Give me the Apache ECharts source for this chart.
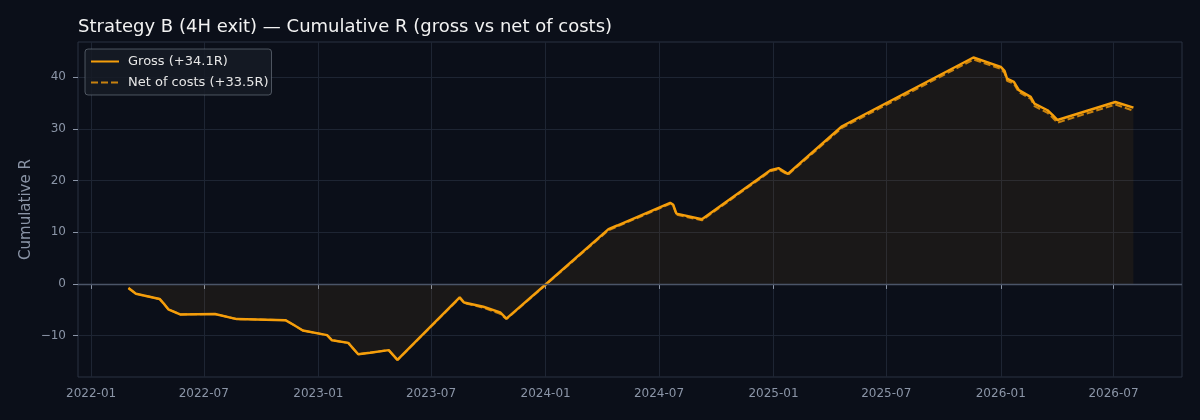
<!DOCTYPE html>
<html>
<head>
<meta charset="utf-8">
<script src="https://cdn.jsdelivr.net/npm/echarts@6/dist/echarts.min.js"></script>
<style>
html,body{margin:0;padding:0;background:#0b0f19;}
#c{width:1200px;height:420px;}
</style>
</head>
<body>
<div id="c"></div>
<script>
const dates = ['2022-03-02','2022-03-14','2022-04-21','2022-04-27','2022-05-05','2022-05-24','2022-07-19','2022-08-23','2022-11-09','2022-11-22','2022-12-07','2023-01-15','2023-01-23','2023-02-18','2023-03-06','2023-03-25','2023-04-24','2023-05-08','2023-08-16','2023-08-23','2023-09-23','2023-10-20','2023-10-30','2023-12-31','2024-04-11','2024-04-25','2024-07-19','2024-07-24','2024-07-29','2024-09-08','2024-12-27','2025-01-09','2025-01-24','2025-04-21','2025-11-18','2026-01-01','2026-01-07','2026-01-11','2026-01-22','2026-01-30','2026-02-18','2026-02-24','2026-03-17','2026-03-25','2026-04-02','2026-07-04','2026-08-02'];
const gross = [-0.8,-1.9,-2.9,-3.7,-4.9,-5.9,-5.8,-6.8,-7.0,-7.9,-9.0,-9.9,-10.9,-11.4,-13.6,-13.3,-12.8,-14.7,-2.6,-3.6,-4.4,-5.5,-6.7,-0.2,10.6,11.3,15.7,15.3,13.6,12.5,22.0,22.4,21.3,30.5,43.8,42.0,41.2,39.7,39.1,37.5,36.2,34.9,33.6,32.7,31.7,35.2,34.1];
const net = [-0.8,-1.9,-2.9,-3.7,-4.9,-5.9,-5.8,-6.8,-7.0,-7.9,-9.0,-9.9,-10.9,-11.4,-13.6,-13.3,-12.8,-14.7,-2.7,-3.7,-4.6,-5.8,-6.8,-0.3,10.4,11.1,15.5,15.1,13.4,12.3,21.8,22.2,21.1,30.2,43.4,41.6,40.8,39.3,38.7,37.1,35.8,34.4,33.1,32.2,31.2,34.7,33.5];
const xTickLabels = ['2022-01','2022-07','2023-01','2023-07','2024-01','2024-07','2025-01','2025-07','2026-01','2026-07'];
const yTicks = [-10,0,10,20,30,40];

const ts = s => { const p = s.split('-').map(Number); return Date.UTC(p[0], p[1]-1, p[2] || 1); };
const xTicks = xTickLabels.map(ts);
const grossData = dates.map((d,i)=>[ts(d), gross[i]]);
const netData = dates.map((d,i)=>[ts(d), net[i]]);

const labelColor = '#8b95a7';
const gridColor = '#1e2533';
const chart = echarts.init(document.getElementById('c'), null, {renderer:'canvas'});
chart.setOption({
  backgroundColor: '#0b0f19',
  animation: false,
  title: {
    text: 'Strategy B (4H exit) \u2014 Cumulative R (gross vs net of costs)',
    left: 73, top: 13,
    textStyle: {color:'#f2f2f2', fontSize:18, fontWeight:'normal', fontFamily:'DejaVu Sans'}
  },
  legend: {
    orient: 'vertical', left: 85, top: 49,
    backgroundColor: 'rgba(22,27,38,0.85)',
    borderColor: 'rgba(130,138,150,0.55)', borderWidth: 1, borderRadius: 3,
    padding: [6, 3, 6, 5],
    itemWidth: 28, itemHeight: 10, itemGap: 8,
    itemStyle: {opacity: 0},
    textStyle: {color:'#e6e6e6', fontSize:13, fontFamily:'DejaVu Sans', padding:[0,0,0,4]},
    data: ['Gross (+34.1R)', 'Net of costs (+33.5R)']
  },
  grid: {
    left: 78, right: 18, top: 42, bottom: 43,
    show: true, borderColor: '#2a3242', borderWidth: 1
  },
  xAxis: {
    type: 'value',
    min: ts('2021-12-11'), max: ts('2026-10-19'),
    axisLine: {show:false},
    axisTick: {show:true, length:5, lineStyle:{color:labelColor}, customValues: xTicks},
    axisLabel: {
      color: labelColor, fontSize: 12, fontFamily:'DejaVu Sans', margin: 11,
      customValues: xTicks,
      formatter: v => { const d = new Date(v); return d.getUTCFullYear() + '-' + String(d.getUTCMonth()+1).padStart(2,'0'); }
    },
    splitLine: {show:true, lineStyle:{color:gridColor, width:1}}
  },
  yAxis: {
    type: 'value', min: -18, max: 46.8,
    name: 'Cumulative R', nameLocation: 'middle', nameGap: 44, nameRotate: 90,
    nameMoveOverlap: false,
    nameTextStyle: {color: labelColor, fontSize: 15, fontFamily:'DejaVu Sans'},
    axisLine: {show:false},
    axisTick: {show:true, length:5, lineStyle:{color:labelColor}, customValues: yTicks},
    axisLabel: {
      color: labelColor, fontSize: 12, fontFamily:'DejaVu Sans', margin: 12,
      customValues: yTicks,
      formatter: v => v < 0 ? '\u2212' + Math.abs(v) : String(v)
    },
    splitLine: {show:true, lineStyle:{color:gridColor, width:1}}
  },
  series: [
    {
      name: 'Gross (+34.1R)', type: 'line', data: grossData,
      showSymbol: false, symbol: 'none', z: 3,
      lineStyle: {color:'#f59e0b', width:2.5},
      itemStyle: {color:'#f59e0b'},
      areaStyle: {color:'rgba(250,160,20,0.09)', origin: 0},
      markLine: {
        silent: true, symbol: 'none', label:{show:false},
        lineStyle: {color:'#4b5568', width:1.3, type:'solid'},
        data: [{yAxis: 0}]
      }
    },
    {
      name: 'Net of costs (+33.5R)', type: 'line', data: netData,
      showSymbol: false, symbol: 'none', z: 2,
      lineStyle: {color:'rgba(230,148,12,0.85)', width:2, type:[7,3]},
      itemStyle: {color:'rgba(230,148,12,0.85)'}
    }
  ]
});
</script>
</body>
</html>
